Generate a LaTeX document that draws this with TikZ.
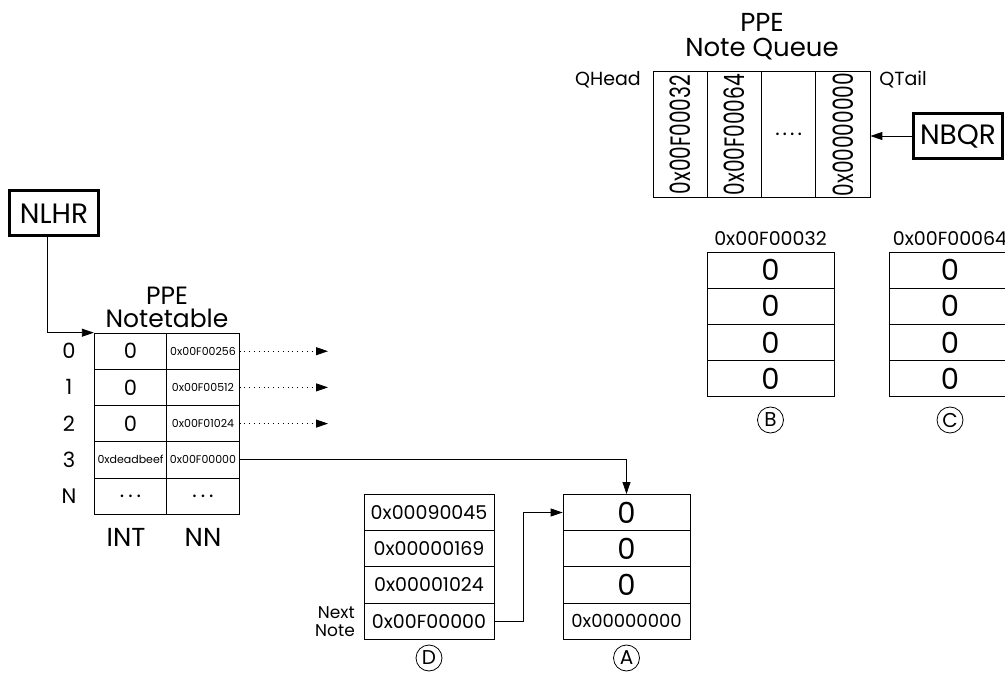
\documentclass[tikz,border=0pt]{standalone}
\usepackage{fontspec}
\setmainfont{Poppins}
\newfontfamily\narrowfont[FakeStretch=0.72]{Poppins}
\usetikzlibrary{arrows.meta, positioning, calc}
\newcommand{\fsz}[1]{\fontsize{#1}{#1}\selectfont}
\tikzset{
  cell/.style={rectangle, draw, line width=0.8pt, minimum width=#1,
               minimum height=36.2pt, inner sep=0pt, font=\fsz{21}},
  cell/.default=72.5pt,
  reg/.style={rectangle, draw, line width=3pt, minimum width=89pt,
              minimum height=45pt, inner sep=0pt, font=\fsz{28}},
  txt/.style={inner sep=0pt, font=\fsz{#1}},
  txt/.default=19,
  tag/.style={circle, draw, line width=0.8pt, minimum size=26pt, inner sep=0pt, font=\fsz{20}},
  ptr/.style={-{Triangle[length=12pt, width=8pt]}, line width=0.8pt},
  dptr/.style={ptr, dash pattern=on 0.8pt off 4pt},
}

\begin{document}
\begin{tikzpicture}[x=1pt, y=-1pt]
  \useasboundingbox (0,0) rectangle (1005,679);
  \clip (0,0) rectangle (1005,679);

  % NLHR register
  \node[reg] (nlhr) at (54, 213.5) {NLHR};

  % PPE Notetable
  \node[txt=25, anchor=base] (nt-ppe) at (167, 305) {PPE};
  \node[txt=25, anchor=base] (nt-title) at (167, 328) {Notetable};
  \foreach \r/\lab/\val/\nn in {0/0/0/0x00F00256, 1/1/0/0x00F00512, 2/2/0/0x00F01024,
      3/3/{\fsz{11}0xdeadbeef}/0x00F00000, 4/N/{.\hspace{4pt}.\hspace{4pt}.}/{\fsz{21}.\hspace{4pt}.\hspace{4pt}.}} {
    \node[cell] (int-\r) at (130.5, 351.2+36.2*\r) {\val};
    \node[cell, font=\fsz{11}] (nn-\r) at (203, 351.2+36.2*\r) {\nn};
    \node[txt=21] (row-\r) at (69, 351.2+36.2*\r) {\lab};
  }
  \node[txt=26] (int-lbl) at (126, 537) {INT};
  \node[txt=26] (nn-lbl) at (203, 537) {NN};
  \draw[ptr] ([xshift=-7pt]nlhr.south) |- (int-0.north west);

  % pointers leaving the table
  \foreach \r in {0,1,2} {
    \coordinate (out-\r) at (328, 351.2+36.2*\r);
    \draw[dptr] (nn-\r.east) -- (out-\r);
  }

  % note D
  \foreach \k/\v in {0/0x00090045, 1/0x00000169, 2/0x00001024, 3/0x00F00000} {
    \node[cell=130pt, font=\fsz{19}] (d-\k) at (429, 512.5+36.2*\k) {\v};
  }
  \node[txt=17, anchor=base east] (next) at (355, 618.5) {Next};
  \node[txt=17, anchor=base east] (note) at (355, 636) {Note};
  \node[tag] (d-tag) at (429, 658) {D};

  % note A
  \foreach \k/\v in {0/0, 1/0, 2/0} {
    \node[cell=127pt, font=\fsz{29}] (a-\k) at (626.5, 512.5+36.2*\k) {\v};
  }
  \node[cell=127pt, font=\fsz{18}] (a-3) at (626.5, 621.1) {0x00000000};
  \node[tag] (a-tag) at (626.5, 658) {A};

  \draw[ptr] (nn-3.east) -| (a-0.north);
  \draw[ptr] (d-3.east) -- ++(29,0) |- (a-0.west);

  % PPE Note Queue
  \node[txt=26, anchor=base] (q-ppe) at (762, 32) {PPE};
  \node[txt=26, anchor=base] (q-title) at (762, 57) {Note Queue};
  \foreach \k/\v in {0/0x00F00032, 1/0x00F00064, 3/0x00000000} {
    \node[cell=54.25pt, minimum height=126pt] (q-\k) at (680.1+54.25*\k, 134.5)
      {\rotatebox{90}{\narrowfont\fsz{28}\v}};
  }
  \node[cell=54.25pt, minimum height=126pt] (q-2) at (788.6, 134.5)
    {.\hspace{3pt}.\hspace{3pt}.\hspace{3pt}.};
  \node[txt] (qhead) at (608, 80) {QHead};
  \node[txt] (qtail) at (903, 80) {QTail};

  % NBQR register
  \node[reg] (nbqr) at (958, 136) {NBQR};
  \draw[ptr] (nbqr.west) -- (nbqr.west -| q-3.east);

  % notes B and C
  \node[txt] (b-addr) at (770.5, 239) {0x00F00032};
  \node[txt] (c-addr) at (950, 239) {0x00F00064};
  \foreach \k in {0,...,3} {
    \node[cell=127pt, font=\fsz{29}] (b-\k) at (770.5, 270.1+36.2*\k) {0};
    \node[cell=122pt, font=\fsz{29}] (c-\k) at (950, 270.1+36.2*\k) {0};
  }
  \node[tag] (b-tag) at (770.5, 420) {B};
  \node[tag] (c-tag) at (950, 420) {C};
\end{tikzpicture}
\end{document}
